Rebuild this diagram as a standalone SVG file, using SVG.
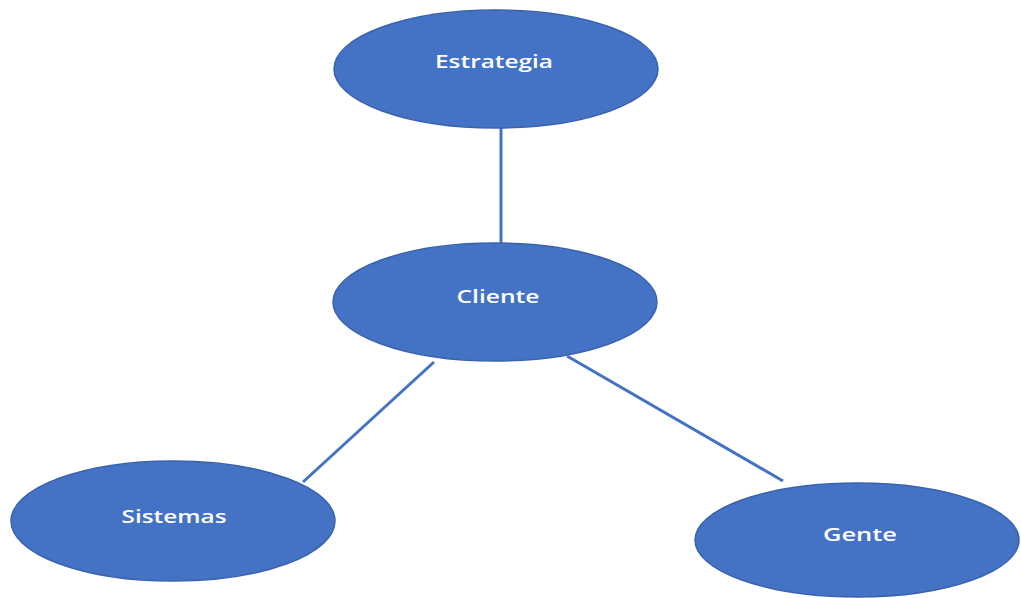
<svg xmlns="http://www.w3.org/2000/svg" width="1021" height="598" viewBox="0 0 1021 598">
<style>
.node{fill:#4472C4;stroke:#3A63AD;stroke-width:1.5}
.lbl{fill:#FFFFFF;font-family:"Open Sans","Liberation Sans",sans-serif;font-weight:600;font-size:18px;text-anchor:middle;dominant-baseline:central}
.edge{stroke:#4472C4;stroke-width:3;fill:none}
</style>
<rect width="1021" height="598" fill="#FFFFFF"/>
<g id="connectors">
<line class="edge" x1="501" y1="128" x2="501" y2="244"/>
<line class="edge" x1="434" y1="362" x2="303" y2="482"/>
<line class="edge" x1="567" y1="356" x2="783" y2="481"/>
</g>
<g id="estrategia">
<ellipse class="node" cx="496" cy="69" rx="162" ry="59"/>
<text class="lbl" x="494" y="61" textLength="118" lengthAdjust="spacingAndGlyphs">Estrategia</text>
</g>
<g id="cliente">
<ellipse class="node" cx="495" cy="302" rx="162" ry="59"/>
<text class="lbl" x="498" y="296" textLength="83" lengthAdjust="spacingAndGlyphs">Cliente</text>
</g>
<g id="sistemas">
<ellipse class="node" cx="173" cy="521" rx="162" ry="60"/>
<text class="lbl" x="174" y="516" textLength="105" lengthAdjust="spacingAndGlyphs">Sistemas</text>
</g>
<g id="gente">
<ellipse class="node" cx="857" cy="540" rx="162" ry="57"/>
<text class="lbl" x="860" y="534" textLength="74" lengthAdjust="spacingAndGlyphs">Gente</text>
</g>
</svg>
